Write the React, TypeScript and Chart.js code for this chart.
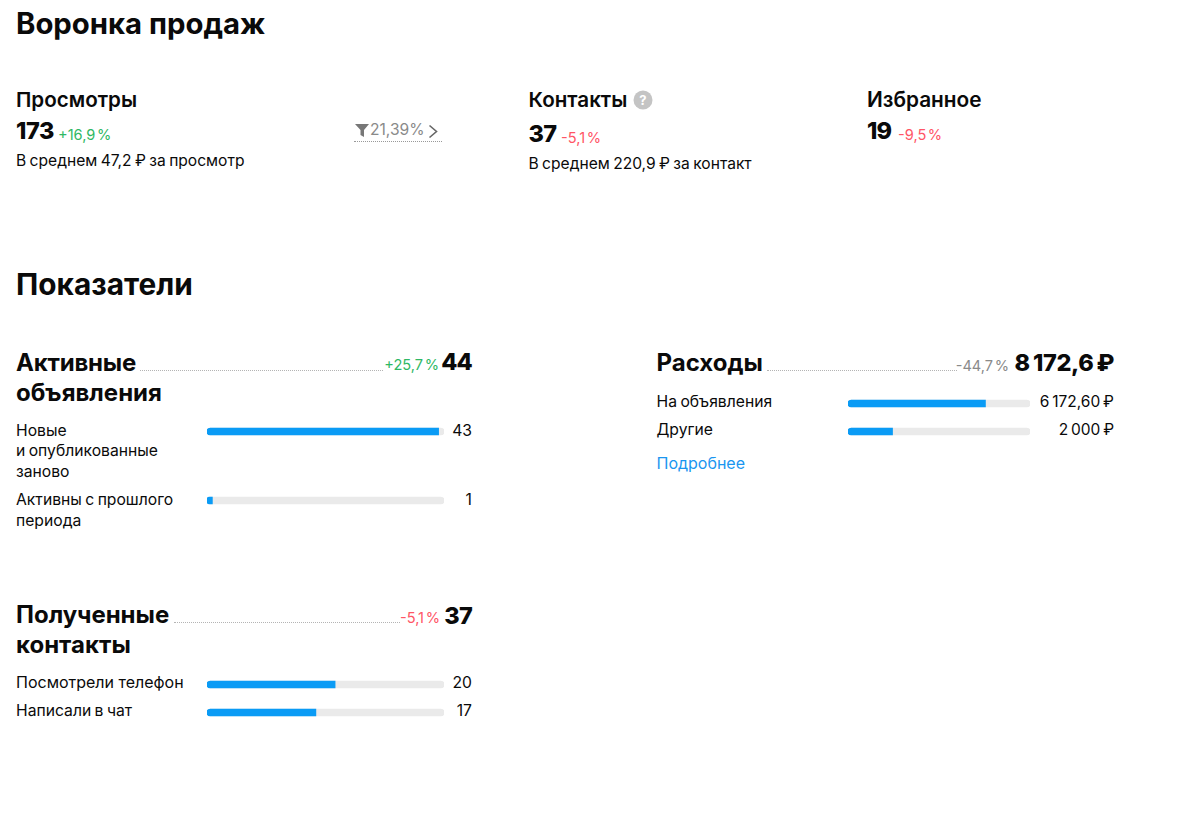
import React, { useEffect, useRef } from 'react';
import { Chart, registerables } from 'chart.js';

Chart.register(...registerables);

const FONT = 'Inter, "Noto Sans", sans-serif';
const GREEN = '#2fb864';
const RED = '#ff5566';
const GREY = '#8a8a8a';
const BLUE = '#0a9bf5';
const TRACK = '#eaeaea';

// Показатели
const activeLabels = ['Новые и опубликованные заново', 'Активны с прошлого периода'];
const activeValues = [43, 1];
const activeTotal = 44;
const costLabels = ['На объявления', 'Другие'];
const costValues = [6172.6, 2000];
const costTotal = 8172.6;
const contactLabels = ['Посмотрели телефон', 'Написали в чат'];
const contactValues = [20, 17];
const contactTotal = 37;

const ProgressBar = ({ x, y, w, label, value, total }: any) => {
  const ref = useRef<HTMLCanvasElement>(null);
  useEffect(() => {
    const c = new Chart(ref.current!, {
      type: 'bar',
      data: {
        labels: [label],
        datasets: [
          {
            data: [value],
            backgroundColor: BLUE,
            borderRadius: { topLeft: 4, bottomLeft: 4, topRight: 0, bottomRight: 0 },
            borderSkipped: false,
            barThickness: 7,
            grouped: false,
            order: 0,
          },
          {
            data: [total],
            backgroundColor: TRACK,
            borderRadius: 4,
            borderSkipped: false,
            barThickness: 7,
            grouped: false,
            order: 1,
          },
        ],
      },
      options: {
        indexAxis: 'y',
        animation: false,
        responsive: false,
        devicePixelRatio: 1,
        layout: { padding: 0 },
        plugins: { legend: { display: false }, tooltip: { enabled: false } },
        scales: {
          x: { display: false, min: 0, max: total },
          y: { display: false },
        },
      },
    } as any);
    return () => c.destroy();
  }, []);
  return (
    <canvas
      ref={ref}
      width={w}
      height={11}
      style={{ position: 'absolute', left: x, top: y, width: w, height: 11 }}
    />
  );
};

const T = ({ x, r, y, s, w = 400, c = '#0a0a0a', lh, ws = 0, ls = 0, children }: any) => (
  <div
    style={{
      position: 'absolute',
      left: r === undefined ? x : undefined,
      right: r === undefined ? undefined : 1200 - r,
      top: y,
      fontSize: s,
      fontWeight: w,
      color: c,
      lineHeight: (lh || Math.round(s * 1.25)) + 'px',
      wordSpacing: ws,
      letterSpacing: ls,
      whiteSpace: 'pre',
    }}
  >
    {children}
  </div>
);

const Pct = (p: any) => <T s={14.6} lh={19} ws={-2.5} {...p} />;
const Num = (p: any) => <T s={23.5} w={800} lh={30} ls={-0.8} {...p} />;
const Row = (p: any) => <T s={15.7} lh={21} ws={-1} {...p} />;
const Avg = (p: any) => <T s={15.6} lh={20} ws={-1} {...p} />;
const Money = (p: any) => <T s={15.5} lh={21} ws={-1.5} {...p} />;

const Dots = ({ x, x2, y, col = '#b4b4b4' }: any) => (
  <div
    style={{
      position: 'absolute',
      left: x,
      width: x2 - x,
      top: y,
      borderTop: '1px dotted ' + col,
    }}
  />
);

const App = () => (
  <div
    style={{
      position: 'absolute',
      left: 0,
      top: 0,
      width: 1200,
      height: 819,
      overflow: 'hidden',
      background: '#fff',
      fontFamily: FONT,
    }}
  >
    <T x={16} y={6} s={29.3} w={700} lh={36}>Воронка продаж</T>

    <T x={16} y={87} s={20.6} w={600}>Просмотры</T>
    <Num x={16} y={116} ls={-0.4}>173</Num>
    <Pct x={58} y={126} c={GREEN}>+16,9 %</Pct>
    <Avg x={16} y={151}>В среднем 47,2 ₽ за просмотр</Avg>

    <svg style={{ position: 'absolute', left: 355, top: 124 }} width="15" height="13" viewBox="0 0 15 13">
      <path d="M0 0H14L9 6V13L5.5 11V6Z" fill="#777" />
    </svg>
    <T x={370} y={120} s={15.6} c={GREY}>21,39%</T>
    <svg style={{ position: 'absolute', left: 427, top: 124 }} width="12" height="15" viewBox="0 0 12 15">
      <path d="M2.5 1.5L9.5 7.5L2.5 13.5" fill="none" stroke="#666" strokeWidth="1.6" />
    </svg>
    <Dots x={354} x2={442} y={141} col="#999" />

    <T x={528.5} y={87} s={20.6} w={600}>Контакты</T>
    <svg style={{ position: 'absolute', left: 633, top: 90 }} width="20" height="20" viewBox="0 0 20 20">
      <circle cx="10" cy="10" r="9.5" fill="#c4c4c4" />
      <text x="10" y="14.5" textAnchor="middle" fontSize="13" fontWeight="700" fill="#fff" fontFamily={FONT}>?</text>
    </svg>
    <Num x={528.5} y={119}>37</Num>
    <Pct x={561} y={129} c={RED}>-5,1 %</Pct>
    <Avg x={528.5} y={154}>В среднем 220,9 ₽ за контакт</Avg>

    <T x={867} y={87} s={20.8} w={600}>Избранное</T>
    <Num x={867} y={116}>19</Num>
    <Pct x={898} y={126} c={RED}>-9,5 %</Pct>

    <T x={16} y={266} s={29.8} w={700} lh={36}>Показатели</T>

    <T x={16} y={348} s={24} w={700} lh={30} ls={-0.2}>Активные</T>
    <T x={16} y={378} s={24} w={700} lh={30}>объявления</T>
    <Dots x={140} x2={383} y={370} />
    <Pct r={439} y={356} c={GREEN}>+25,7 %</Pct>
    <Num r={472} y={347}>{activeTotal}</Num>

    <Row x={16} y={420.5} lh={20.5}>{'Новые\nи опубликованные\nзаново'}</Row>
    <ProgressBar x={207} y={426} w={237} label={activeLabels[0]} value={activeValues[0]} total={activeTotal} />
    <Row r={472} y={420}>{activeValues[0]}</Row>
    <Row x={16} y={489}>{'Активны с прошлого\nпериода'}</Row>
    <ProgressBar x={207} y={495} w={237} label={activeLabels[1]} value={activeValues[1]} total={activeTotal} />
    <Row r={472} y={489}>{activeValues[1]}</Row>

    <T x={656.5} y={348} s={24} w={700} lh={30}>Расходы</T>
    <Dots x={767} x2={957} y={370} />
    <Pct r={1009} y={357} c={GREY}>-44,7 %</Pct>
    <Num r={1114} y={348} ls={-0.4} ws={-1.5}>8 172,6 ₽</Num>
    <Row x={656.5} y={391}>{costLabels[0]}</Row>
    <ProgressBar x={848} y={398} w={182} label={costLabels[0]} value={costValues[0]} total={costTotal} />
    <Money r={1114} y={391}>6 172,60 ₽</Money>
    <Row x={656.5} y={419}>{costLabels[1]}</Row>
    <ProgressBar x={848} y={426} w={182} label={costLabels[1]} value={costValues[1]} total={costTotal} />
    <Money r={1114} y={419}>2 000 ₽</Money>
    <T x={656.5} y={453} s={16} lh={21} c="#1a96f0">Подробнее</T>

    <T x={16} y={600} s={24} w={700} lh={30}>Полученные</T>
    <T x={16} y={630} s={24} w={700} lh={30}>контакты</T>
    <Dots x={174} x2={400} y={622} />
    <Pct r={440} y={609} c={RED}>-5,1 %</Pct>
    <Num r={472} y={601}>{contactTotal}</Num>
    <T x={16} y={672} s={16} lh={21}>{contactLabels[0]}</T>
    <ProgressBar x={207} y={679} w={237} label={contactLabels[0]} value={contactValues[0]} total={contactTotal} />
    <Row r={472} y={672}>{contactValues[0]}</Row>
    <Row x={16} y={700}>{contactLabels[1]}</Row>
    <ProgressBar x={207} y={707} w={237} label={contactLabels[1]} value={contactValues[1]} total={contactTotal} />
    <Row r={472} y={700}>{contactValues[1]}</Row>
  </div>
);

export default App;
